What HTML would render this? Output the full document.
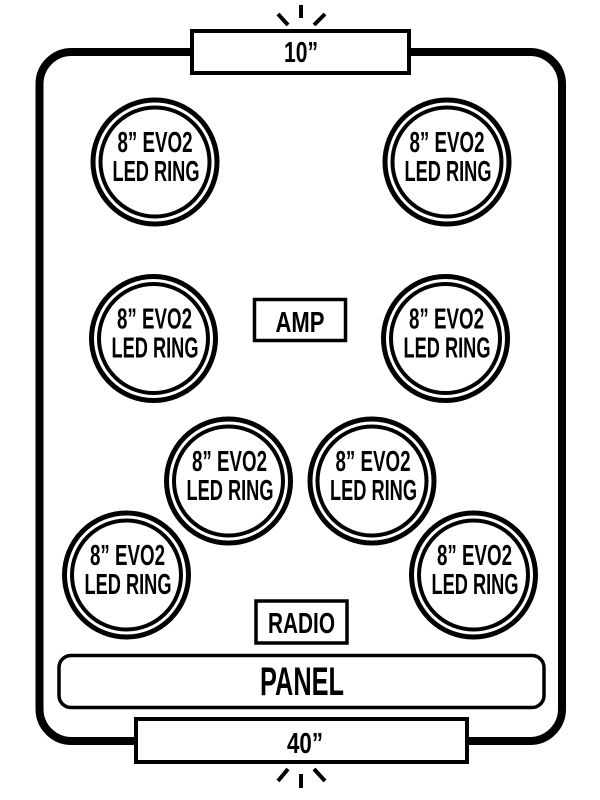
<!DOCTYPE html>
<html><head><meta charset="utf-8"><style>
html,body{margin:0;padding:0;background:#fff;}
svg{display:block;}
text{font-family:"Liberation Sans Narrow","Liberation Sans",sans-serif;font-weight:bold;fill:#000;}
</style></head><body>
<svg width="600" height="800" viewBox="0 0 600 800" xmlns="http://www.w3.org/2000/svg">
<rect x="39.5" y="52" width="522.5" height="689" rx="32" fill="none" stroke="#000" stroke-width="8"/>
<rect x="192" y="31" width="217" height="42" fill="#fff" stroke="#000" stroke-width="4"/>
<text x="301" y="62" font-size="29" text-anchor="middle" textLength="34" lengthAdjust="spacingAndGlyphs">10”</text>
<g stroke="#000" stroke-width="4">
<line x1="301" y1="5" x2="301" y2="18"/>
<line x1="278" y1="14" x2="288" y2="25"/>
<line x1="325" y1="14" x2="314" y2="25"/>
<line x1="301" y1="774" x2="301" y2="788"/>
<line x1="278" y1="781" x2="288" y2="769"/>
<line x1="325" y1="781" x2="314" y2="769"/>
</g>
<rect x="136" y="719" width="331" height="43" fill="#fff" stroke="#000" stroke-width="4"/>
<text x="305" y="753" font-size="29" text-anchor="middle" textLength="36" lengthAdjust="spacingAndGlyphs">40”</text>
<rect x="254.5" y="299.5" width="91" height="41" fill="none" stroke="#000" stroke-width="3.5"/>
<text x="300" y="332" font-size="29" text-anchor="middle" textLength="49" lengthAdjust="spacingAndGlyphs">AMP</text>
<rect x="256" y="601" width="91" height="42" fill="none" stroke="#000" stroke-width="3.5"/>
<text x="301.5" y="633" font-size="29" text-anchor="middle" textLength="67" lengthAdjust="spacingAndGlyphs">RADIO</text>
<rect x="59" y="655.5" width="485" height="52" rx="12" fill="none" stroke="#000" stroke-width="3.5"/>
<text x="302" y="695" font-size="40" text-anchor="middle" textLength="84" lengthAdjust="spacingAndGlyphs">PANEL</text>
<g fill="none" stroke="#000">
<g stroke-width="5">
<circle cx="155" cy="162" r="62"/><circle cx="447" cy="162" r="62"/>
<circle cx="153.5" cy="338.5" r="62"/><circle cx="445.5" cy="338.5" r="62"/>
<circle cx="228.5" cy="481" r="62"/><circle cx="372" cy="481" r="62"/>
<circle cx="126.5" cy="575" r="62"/><circle cx="473.5" cy="575" r="62"/>
</g>
<g stroke-width="4">
<circle cx="155" cy="162" r="54.5"/><circle cx="447" cy="162" r="54.5"/>
<circle cx="153.5" cy="338.5" r="54.5"/><circle cx="445.5" cy="338.5" r="54.5"/>
<circle cx="228.5" cy="481" r="54.5"/><circle cx="372" cy="481" r="54.5"/>
<circle cx="126.5" cy="575" r="54.5"/><circle cx="473.5" cy="575" r="54.5"/>
</g>
</g>
<g font-size="28.5" text-anchor="middle">
<text x="155" y="152" textLength="75" lengthAdjust="spacingAndGlyphs">8” EVO2</text>
<text x="156" y="181" textLength="87" lengthAdjust="spacingAndGlyphs">LED RING</text>
<text x="447" y="152" textLength="75" lengthAdjust="spacingAndGlyphs">8” EVO2</text>
<text x="448" y="181" textLength="87" lengthAdjust="spacingAndGlyphs">LED RING</text>
<text x="154.5" y="328.5" textLength="75" lengthAdjust="spacingAndGlyphs">8” EVO2</text>
<text x="155" y="357.5" textLength="87" lengthAdjust="spacingAndGlyphs">LED RING</text>
<text x="446.5" y="328.5" textLength="75" lengthAdjust="spacingAndGlyphs">8” EVO2</text>
<text x="447" y="357.5" textLength="87" lengthAdjust="spacingAndGlyphs">LED RING</text>
<text x="229.5" y="471" textLength="75" lengthAdjust="spacingAndGlyphs">8” EVO2</text>
<text x="230" y="500" textLength="87" lengthAdjust="spacingAndGlyphs">LED RING</text>
<text x="373" y="471" textLength="75" lengthAdjust="spacingAndGlyphs">8” EVO2</text>
<text x="373.5" y="500" textLength="87" lengthAdjust="spacingAndGlyphs">LED RING</text>
<text x="127.5" y="565" textLength="75" lengthAdjust="spacingAndGlyphs">8” EVO2</text>
<text x="128" y="594" textLength="87" lengthAdjust="spacingAndGlyphs">LED RING</text>
<text x="474.5" y="565" textLength="75" lengthAdjust="spacingAndGlyphs">8” EVO2</text>
<text x="475" y="594" textLength="87" lengthAdjust="spacingAndGlyphs">LED RING</text>
</g>
</svg>
</body></html>
